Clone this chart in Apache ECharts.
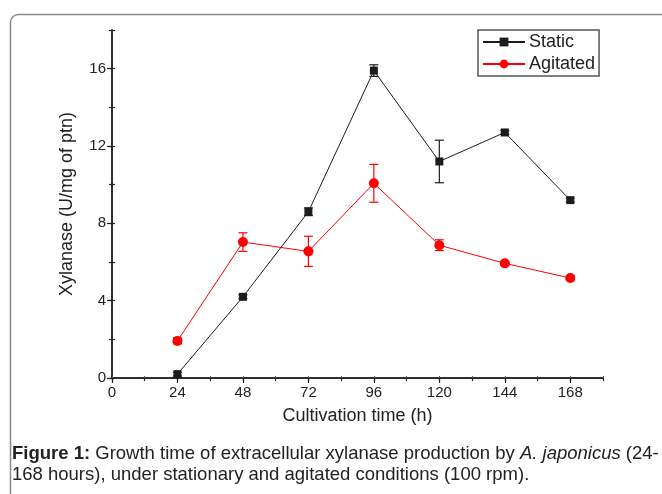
<!DOCTYPE html>
<html>
<head>
<meta charset="utf-8">
<script src="https://cdn.jsdelivr.net/npm/echarts@6/dist/echarts.min.js"></script>
<style>
html,body{margin:0;padding:0;background:#fff;}
#c{width:662px;height:494px;}
</style>
</head>
<body>
<div id="c"></div>
<script>
const hours = [24, 48, 72, 96, 120, 144, 168];
const staticVals = [0.2, 4.2, 8.6, 15.9, 11.2, 12.7, 9.2];
const staticErr = [0.1, 0.1, 0.2, 0.3, 1.1, 0.1, 0.1];
const agitatedVals = [1.92, 7.03, 6.55, 10.07, 6.87, 5.93, 5.17];
const agitatedErr = [0.15, 0.48, 0.78, 0.98, 0.28, 0.1, 0.1];
const xTicks = [0, 24, 48, 72, 96, 120, 144, 168];
const yTicks = [0, 4, 8, 12, 16];

const FONT = 'Liberation Sans, Arial, sans-serif';
const AXC = '#222';

function pts(vals) { return hours.map((h, i) => [h, vals[i]]); }
function errPts(vals, errs) { return hours.map((h, i) => [h, vals[i], errs[i]]); }

function errorBar(color) {
  return function (params, api) {
    const x = api.value(0), y = api.value(1), e = api.value(2);
    const top = api.coord([x, y + e]);
    const bot = api.coord([x, y - e]);
    const hw = 4.5;
    const style = { stroke: color, lineWidth: 1.2 };
    return {
      type: 'group',
      children: [
        { type: 'line', shape: { x1: top[0], y1: top[1], x2: bot[0], y2: bot[1] }, style },
        { type: 'line', shape: { x1: top[0] - hw, y1: top[1], x2: top[0] + hw, y2: top[1] }, style },
        { type: 'line', shape: { x1: bot[0] - hw, y1: bot[1], x2: bot[0] + hw, y2: bot[1] }, style }
      ]
    };
  };
}

const chart = echarts.init(document.getElementById('c'));
const axisLine = { show: true, lineStyle: { color: AXC, width: 1.5 } };

chart.setOption({
  animation: false,
  backgroundColor: '#fff',
  textStyle: { fontFamily: FONT },
  grid: { left: 112, top: 30, width: 491, height: 348, containLabel: false },
  xAxis: [
    {
      type: 'value', min: 0, max: 180, interval: 24, position: 'bottom',
      axisLine: axisLine,
      axisTick: { show: true, length: 5, lineStyle: { color: AXC, width: 1.2 } },
      axisLabel: {
        color: AXC, fontSize: 15, margin: 7, showMaxLabel: false,
        formatter: v => (xTicks.indexOf(v) >= 0 ? String(v) : '')
      },
      splitLine: { show: false },
      name: 'Cultivation time (h)', nameLocation: 'middle', nameGap: 29,
      nameTextStyle: { color: AXC, fontSize: 18 }
    },
    {
      type: 'value', min: 0, max: 180, interval: 12, position: 'bottom',
      axisLine: { show: false },
      axisTick: { show: true, length: 3, lineStyle: { color: AXC, width: 1.2 } },
      axisLabel: { show: false }, splitLine: { show: false }
    },
    {
      type: 'value', min: 0, max: 180, interval: 12, position: 'top',
      axisLine: axisLine,
      axisTick: { show: true, length: 2, lineStyle: { color: '#555', width: 1 } },
      axisLabel: { show: false }, splitLine: { show: false }
    }
  ],
  yAxis: [
    {
      type: 'value', min: 0, max: 18, interval: 4, position: 'left',
      axisLine: axisLine,
      axisTick: { show: true, length: 5, lineStyle: { color: AXC, width: 1.2 } },
      axisLabel: {
        color: AXC, fontSize: 15, margin: 6, showMaxLabel: false,
        formatter: v => (yTicks.indexOf(v) >= 0 ? String(v) : '')
      },
      splitLine: { show: false },
      name: 'Xylanase (U/mg of ptn)', nameLocation: 'middle', nameGap: 36,
      nameTextStyle: { color: AXC, fontSize: 18 }
    },
    {
      type: 'value', min: 0, max: 18, interval: 2, position: 'left',
      axisLine: { show: false },
      axisTick: { show: true, length: 3, lineStyle: { color: AXC, width: 1.2 } },
      axisLabel: { show: false }, splitLine: { show: false }
    },
    {
      type: 'value', min: 0, max: 18, interval: 2, position: 'right',
      axisLine: axisLine,
      axisTick: { show: true, length: 3, lineStyle: { color: AXC, width: 1.2 } },
      axisLabel: { show: false }, splitLine: { show: false }
    }
  ],
  legend: {
    orient: 'vertical', left: 478, top: 30,
    backgroundColor: '#fff', borderColor: '#555', borderWidth: 1.5, borderRadius: 0,
    padding: [2, 4, 2, 4], itemGap: 2, itemWidth: 42, itemHeight: 11,
    textStyle: { fontSize: 18, color: AXC, lineHeight: 20, padding: [0, 0, 0, -1] },
    data: ['Static', 'Agitated']
  },
  series: [
    {
      name: 'Static-err', type: 'custom', xAxisIndex: 0, yAxisIndex: 0, z: 1,
      renderItem: errorBar('#1c1c1c'), data: errPts(staticVals, staticErr),
      encode: { x: 0, y: 1 }
    },
    {
      name: 'Agitated-err', type: 'custom', xAxisIndex: 0, yAxisIndex: 0, z: 1,
      renderItem: errorBar('#ff0000'), data: errPts(agitatedVals, agitatedErr),
      encode: { x: 0, y: 1 }
    },
    {
      name: 'Static', type: 'line', xAxisIndex: 0, yAxisIndex: 0, z: 3,
      data: pts(staticVals), symbol: 'rect', symbolSize: 8,
      lineStyle: { color: '#1c1c1c', width: 1 },
      itemStyle: { color: '#1c1c1c' }
    },
    {
      name: 'Agitated', type: 'line', xAxisIndex: 0, yAxisIndex: 0, z: 2,
      data: pts(agitatedVals), symbol: 'circle', symbolSize: 10,
      lineStyle: { color: '#ff0000', width: 1 },
      itemStyle: { color: '#ff0000' }
    }
  ],
  graphic: [
    {
      type: 'rect', silent: true, z: -1,
      shape: { x: 10.5, y: 14.5, width: 700, height: 600, r: 8 },
      style: { fill: 'none', stroke: '#8a8a8a', lineWidth: 1.5 }
    },
    {
      type: 'text', left: 12, top: 443,
      style: {
        text: '{b|Figure 1:} Growth time of extracellular xylanase production by {i|A. japonicus} (24-\n168 hours), under stationary and agitated conditions (100 rpm).',
        font: '18.5px ' + FONT, fill: '#222', lineHeight: 21,
        rich: {
          b: { fontWeight: 'bold', fontSize: 18.5, fontFamily: FONT, fill: '#222' },
          i: { fontStyle: 'italic', fontSize: 18.5, fontFamily: FONT, fill: '#222' }
        }
      }
    }
  ]
});
</script>
</body>
</html>
